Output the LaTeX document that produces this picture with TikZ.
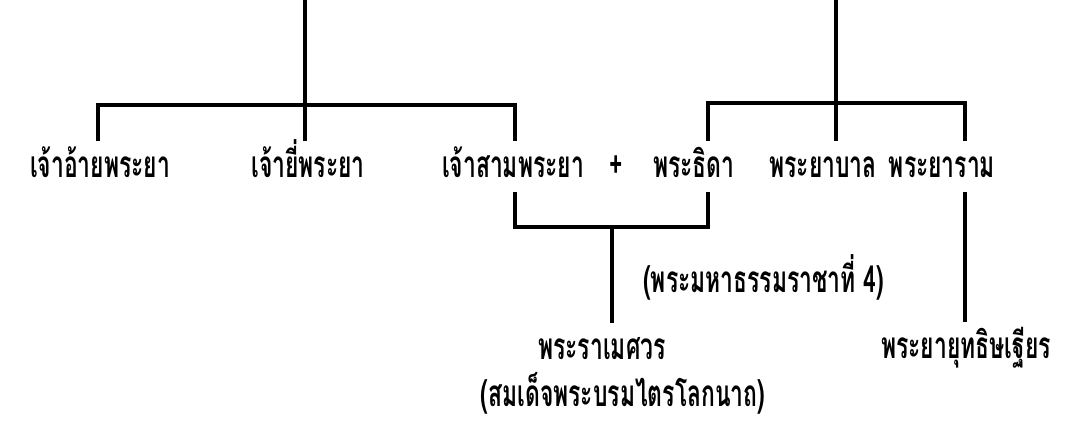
\documentclass[tikz,border=0pt]{standalone}
\usepackage{fontspec}
\newfontfamily\thaifont[Script=Thai,FakeStretch=0.62]{Loma}
\tikzset{
    person/.style={font=\thaifont\bfseries\fontsize{21}{24}\selectfont, inner sep=0pt, anchor=base, text height=20.5pt, text depth=8.5pt},
    kin/.style={line width=1.9pt},
}
\begin{document}
\begin{tikzpicture}[x=0.02cm,y=-0.02cm]
        \useasboundingbox (0,0) rectangle (1086,429);
        % upper row
        \node[person] (ai) at (100,177) {เจ้าอ้ายพระยา};
        \node[person] (yi) at (308,177) {เจ้ายี่พระยา};
        \node[person] (sam) at (513,177) {เจ้าสามพระยา};
        \node[person] (plus) at (616,177) {+};
        \node[person] (thida) at (694,177) {พระธิดา};
        \node[person] (ban) at (823,177) {พระยาบาล};
        \node[person] (ram) at (942,177) {พระยาราม};
        % lower rows
        \node[person, anchor=base west] (maha) at (643,292) {(พระมหาธรรมราชาที่ 4)};
        \node[person] (rame) at (602,359) {พระราเมศวร};
        \node[person] (yut) at (966,358) {พระยายุทธิษเฐียร};
        \node[person, text height=12pt] (trai) at (623,406) {(สมเด็จพระบรมไตรโลกนาถ)};
        % left family
        \coordinate (ltop) at (305,0);
        \coordinate (lbar) at (305,105);
        \draw[kin] (ltop) -- (lbar |- yi.north);
        \draw[kin] (ai.north -| 98,0) |- (lbar) -| (sam.north -| 515,0);
        % right family
        \coordinate (rtop) at (836,0);
        \coordinate (rbar) at (836,103);
        \draw[kin] (rtop) -- (rbar |- ban.north);
        \draw[kin] (thida.north -| 708,0) |- (rbar) -| (ram.north -| 965,0);
        % children
        \coordinate (cbar) at (612,227);
        \draw[kin] (sam.south -| 515,0) |- (cbar) -| (thida.south -| 708,0);
        \draw[kin] (cbar) -- (rame.north -| cbar);
        \draw[kin] (ram.south -| 965,0) -- (yut.north -| 965,0);
\end{tikzpicture}
\end{document}
